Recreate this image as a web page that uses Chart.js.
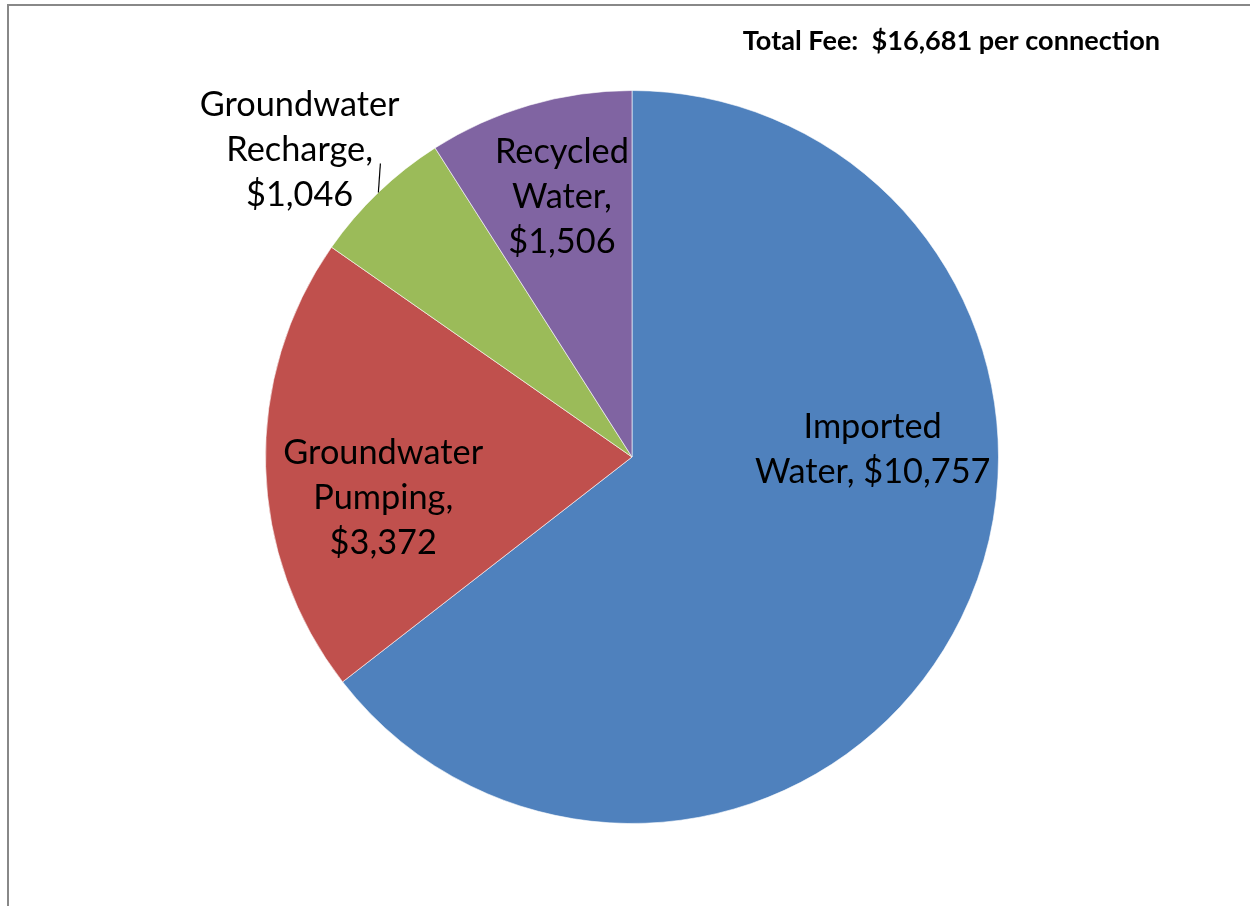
<!DOCTYPE html>
<html>
<head>
<meta charset="utf-8">
<script src="https://cdn.jsdelivr.net/npm/chart.js@4.4.0/dist/chart.umd.min.js"></script>
<style>
  html, body { margin: 0; padding: 0; background: #fff; }
  #wrap { position: relative; width: 1250px; height: 906px; }
</style>
</head>
<body>
<div id="wrap"><canvas id="feeChart" width="1250" height="906"></canvas></div>
<script>
// data
const categories = ['Imported Water', 'Groundwater Pumping', 'Groundwater Recharge', 'Recycled Water'];
const feeValues = [10757, 3372, 1046, 1506];
// how many words go on each line of a slice label
const labelWrap = [[1, 2], [1, 1, 1], [1, 1, 1], [1, 1, 1]];

const sliceColors = ['#4F81BD', '#C0504D', '#9BBB59', '#8064A2'];
const FONT = 'Lato, "Open Sans", sans-serif';

// label block centres: angle clockwise from 12 o'clock (deg), distance as fraction of radius
const labelSpots = [
  { angle: 88.1, r: 0.657 },
  { angle: 260.6, r: 0.688 },
  { angle: 312.7, r: 1.234 },
  { angle: 344.9, r: 0.734 }
];
// leader line for the outside label (index 2)
const leader = { index: 2, end: { angle: 319.4, r: 1.055 } };

const money = v => '$' + v.toLocaleString('en-US');
const totalFee = feeValues.reduce((a, b) => a + b, 0);

function wrapLabel(i) {
  const words = (categories[i] + ', ' + money(feeValues[i])).split(' ');
  const lines = [];
  let k = 0;
  labelWrap[i].forEach(n => {
    lines.push(words.slice(k, k + n).join(' '));
    k += n;
  });
  return lines;
}

function fitSize(ctx, text, width, weight) {
  ctx.font = weight + ' 100px ' + FONT;
  return 100 * width / ctx.measureText(text).width;
}

function polar(cx, cy, R, spot) {
  const t = (spot.angle - 90) * Math.PI / 180;
  return { x: cx + spot.r * R * Math.cos(t), y: cy + spot.r * R * Math.sin(t) };
}

const framePlugin = {
  id: 'frame',
  beforeDraw(chart) {
    const ctx = chart.ctx;
    ctx.save();
    ctx.strokeStyle = '#888888';
    ctx.lineWidth = 2;
    ctx.beginPath();
    ctx.moveTo(8, 906);
    ctx.lineTo(8, 5);
    ctx.lineTo(1250, 5);
    ctx.stroke();
    ctx.restore();
  }
};

const sliceLabels = {
  id: 'sliceLabels',
  afterDatasetsDraw(chart) {
    const ctx = chart.ctx;
    const arcs = chart.getDatasetMeta(0).data;
    const cx = arcs[0].x, cy = arcs[0].y, R = arcs[0].outerRadius;

    ctx.save();
    // leader line
    const a = arcs[leader.index];
    const mid = (a.startAngle + a.endAngle) / 2;
    const end = polar(cx, cy, R, leader.end);
    ctx.strokeStyle = '#000';
    ctx.lineWidth = 1.2;
    ctx.beginPath();
    ctx.moveTo(cx + R * Math.cos(mid), cy + R * Math.sin(mid));
    ctx.lineTo(end.x, end.y);
    ctx.stroke();

    const size = fitSize(ctx, 'Groundwater', 200, 'normal');
    ctx.font = 'normal ' + size.toFixed(1) + 'px ' + FONT;
    ctx.fillStyle = '#000';
    ctx.textAlign = 'center';
    ctx.textBaseline = 'middle';
    const lh = 45;
    labelSpots.forEach((spot, i) => {
      const p = polar(cx, cy, R, spot);
      const lines = wrapLabel(i);
      const y0 = p.y - (lines.length - 1) * lh / 2;
      lines.forEach((ln, j) => ctx.fillText(ln, p.x, y0 + j * lh));
    });

    // total fee note
    const note = 'Total Fee:  ' + money(totalFee) + ' per connection';
    const ns = fitSize(ctx, note, 417, 'bold');
    ctx.font = 'bold ' + ns.toFixed(1) + 'px ' + FONT;
    ctx.textAlign = 'right';
    ctx.textBaseline = 'alphabetic';
    ctx.fillText(note, 1160, 50);
    ctx.restore();
  }
};

new Chart(document.getElementById('feeChart'), {
  type: 'pie',
  data: {
    labels: categories,
    datasets: [{
      data: feeValues,
      backgroundColor: sliceColors,
      borderColor: 'rgba(255,255,255,0.6)',
      borderWidth: 1,
      hoverOffset: 0
    }]
  },
  options: {
    responsive: false,
    animation: false,
    events: [],
    layout: { padding: { top: 90, bottom: 82, left: 265, right: 251 } },
    plugins: {
      legend: { display: false },
      tooltip: { enabled: false }
    }
  },
  plugins: [framePlugin, sliceLabels]
});
</script>
</body>
</html>
